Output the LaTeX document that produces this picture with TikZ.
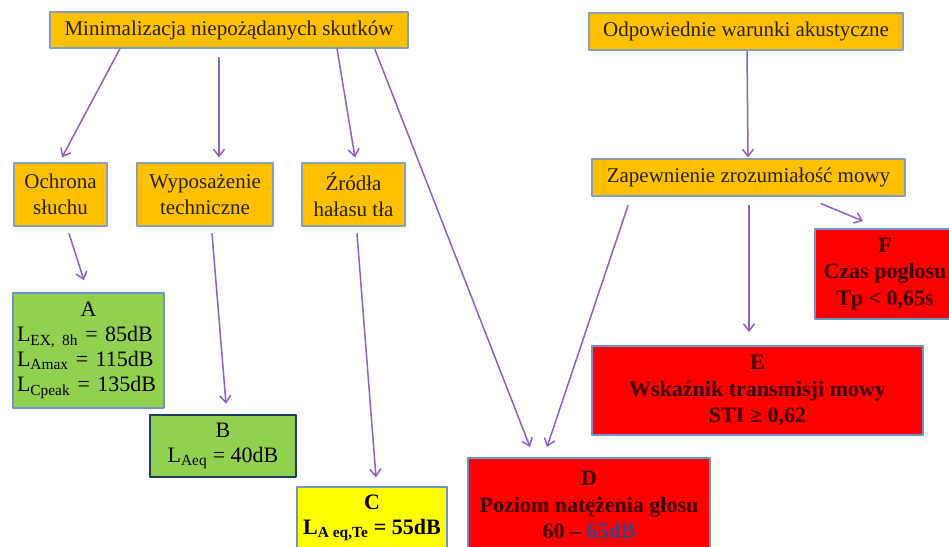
\documentclass[tikz,border=0pt]{standalone}
\usepackage{fontspec}
\setmainfont{Liberation Serif}
\usepackage{xcolor}
\usepackage{tikz}
\usetikzlibrary{arrows.meta,positioning}
\definecolor{boxorange}{HTML}{FFC000}
\definecolor{boxgreen}{HTML}{92D050}
\definecolor{boxyellow}{HTML}{FFFF00}
\definecolor{boxred}{HTML}{FF0000}
\definecolor{edgegrey}{HTML}{8A9DB5}
\definecolor{edgeblue}{HTML}{6F93C4}
\definecolor{edgenavy}{HTML}{203A66}
\definecolor{linkpurple}{HTML}{8D60C8}
\definecolor{inkbrown}{HTML}{2A2200}
\definecolor{inkred}{HTML}{3E0000}
\definecolor{inkblue}{HTML}{3F3F85}

\begin{document}
\begin{tikzpicture}[x=1pt,y=-1pt,line cap=round,line join=round,
  goal/.style={draw=edgegrey,line width=1.2pt,fill=boxorange,inner sep=0pt,
    align=center,text=inkbrown,font=\fontsize{21}{26}\selectfont},
  normbox/.style={draw=edgeblue,line width=1.5pt,inner sep=0pt,align=center,
    font=\fontsize{22}{25}\selectfont},
  critbox/.style={draw=edgeblue,line width=2pt,fill=boxred,inner sep=0pt,
    align=center,text=inkred,font=\fontsize{22}{26.5}\selectfont\bfseries},
  link/.style={draw=linkpurple,line width=1.5pt,
    -{Straight Barb[length=7pt,width=11pt]}}]
  \useasboundingbox[fill=white] (0,0) rectangle (949,546);

  % Goals.
  \node[goal,minimum width=358pt,minimum height=36pt] (minim) at (229,30)
    {Minimalizacja niepożądanych skutków};
  \node[goal,minimum width=314pt,minimum height=37pt] (akust) at (746,31.5)
    {Odpowiednie warunki akustyczne};
  \node[goal,minimum width=93pt,minimum height=63pt] (ochrona) at (60.5,194.5)
    {Ochrona\\słuchu};
  \node[goal,minimum width=136pt,minimum height=63pt] (wypos) at (205,194.5)
    {Wyposażenie\\techniczne};
  \node[goal,minimum width=103pt,minimum height=63pt] (zrodla) at (353.5,194.5)
    {Źródła\\hałasu tła};
  \node[goal,minimum width=313pt,minimum height=37pt] (mowa) at (748.5,177.5)
    {Zapewnienie zrozumiałość mowy};

  % Limit values.
  \node[normbox,fill=boxgreen,align=left,text width=143pt,
    minimum width=151pt,minimum height=115pt] (A) at (88.5,350.5)
    {\hfil A\hfil\\L\textsubscript{EX, 8h} = 85dB\\L\textsubscript{Amax} = 115dB\\L\textsubscript{Cpeak} = 135dB};
  \node[normbox,fill=boxgreen,draw=edgenavy,line width=2.6pt,
    minimum width=146pt,minimum height=62pt] (B) at (223,446)
    {B\\L\textsubscript{Aeq} = 40dB};
  \node[normbox,fill=boxyellow,font=\fontsize{22}{25}\selectfont\bfseries,
    minimum width=150pt,minimum height=62pt] (C) at (372,518)
    {C\\L\textsubscript{A eq,Te} = 55dB};
  \node[critbox,minimum width=242pt,minimum height=94pt] (D) at (589,505)
    {D\\Poziom natężenia głosu\\60 -- \textcolor{inkblue}{65dB}};
  \node[critbox,minimum width=331pt,minimum height=89pt] (E) at (757.5,390.5)
    {E\\Wskaźnik transmisji mowy\\STI ≥ 0,62};
  \node[critbox,minimum width=140pt,minimum height=90pt] (F) at (885,274)
    {F\\Czas pogłosu\\Tp < 0,65s};

  % Links from the left goal.
  \draw[link] ([xshift=-109pt]minim.south) -- ([xshift=1.5pt,yshift=5pt]ochrona.north);
  \draw[link] ([xshift=-10pt,yshift=-9pt]minim.south) -- ([xshift=14pt,yshift=5pt]wypos.north);
  \draw[link] ([xshift=108pt]minim.south) -- ([xshift=1.5pt,yshift=5pt]zrodla.north);
  \draw[link] ([xshift=146pt,yshift=-1pt]minim.south) -- ([xshift=-59pt,yshift=10pt]D.north);
  \draw[link] ([xshift=8.5pt,yshift=-7pt]ochrona.south) -- ([xshift=-4.5pt,yshift=12pt]A.north);
  \draw[link] ([xshift=7pt,yshift=-7pt]wypos.south) -- ([xshift=3pt,yshift=10pt]B.north);
  \draw[link] ([xshift=3.5pt,yshift=-7pt]zrodla.south) -- ([xshift=4pt,yshift=9pt]C.north);

  % Links from the right goal.
  \draw[link] ([xshift=1pt]akust.south) -- ([xshift=-0.5pt,yshift=1pt]mowa.north);
  \draw[link] ([xshift=-120.5pt,yshift=-9pt]mowa.south) -- ([xshift=-42pt,yshift=10pt]D.north);
  \draw[link] ([xshift=0.5pt,yshift=-9pt]mowa.south) -- ([xshift=-8.5pt,yshift=13pt]E.north);
  \draw[link] ([xshift=72.5pt,yshift=-7pt]mowa.south) -- ([xshift=-22pt,yshift=7pt]F.north);
\end{tikzpicture}
\end{document}
